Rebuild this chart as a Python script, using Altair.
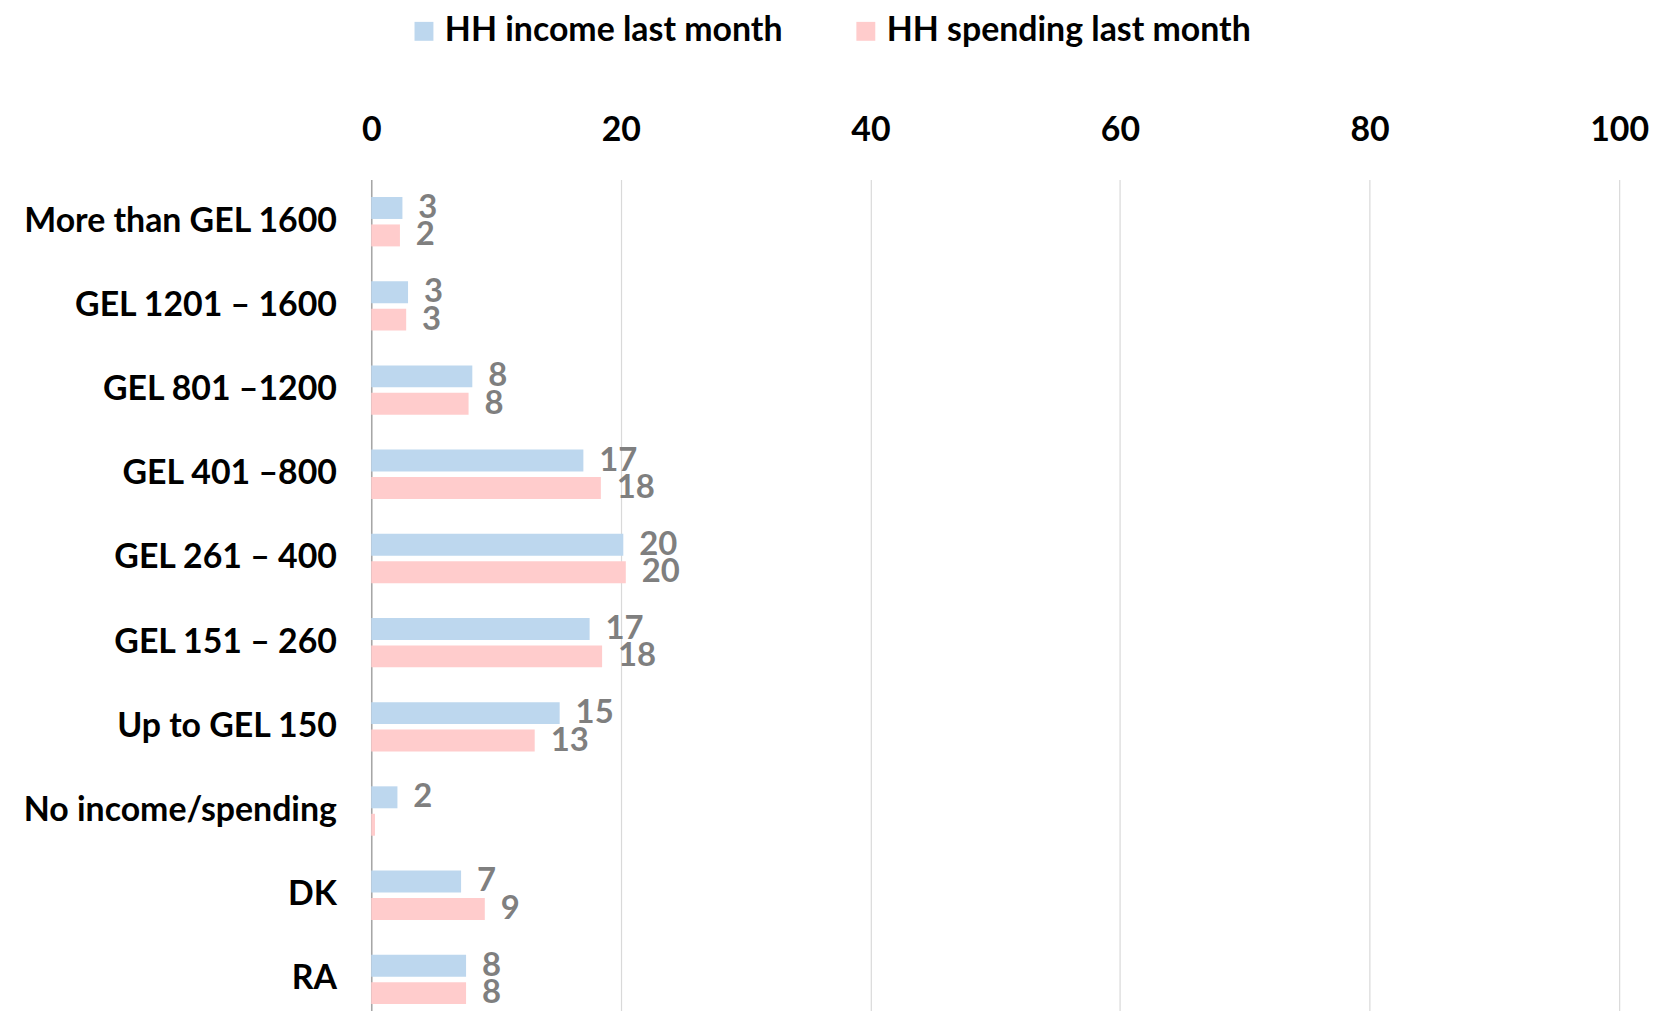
import altair as alt
import pandas as pd

categories = ["More than GEL 1600", "GEL 1201 – 1600", "GEL 801 –1200", "GEL 401 –800",
              "GEL 261 – 400", "GEL 151 – 260", "Up to GEL 150", "No income/spending", "DK", "RA"]
income = [2.5, 2.95, 8.1, 17.0, 20.2, 17.5, 15.1, 2.1, 7.2, 7.6]
spending = [2.3, 2.8, 7.8, 18.4, 20.4, 18.5, 13.1, 0.3, 9.1, 7.6]
income_labels = ["3", "3", "8", "17", "20", "17", "15", "2", "7", "8"]
spending_labels = ["2", "3", "8", "18", "20", "18", "13", "", "9", "8"]
series = ["HH income last month", "HH spending last month"]
colors = ["#BDD7EE", "#FFCCCC"]
ticks = [0, 20, 40, 60, 80, 100]

rows = []
for i, c in enumerate(categories):
    rows.append({"cat": c, "series": series[0], "value": income[i], "label": income_labels[i]})
    rows.append({"cat": c, "series": series[1], "value": spending[i], "label": spending_labels[i]})
df = pd.DataFrame(rows)

FONT = "Lato"

y_enc = alt.Y("cat:N", sort=categories, title=None,
              scale=alt.Scale(domain=categories, range=[2, 848], paddingInner=0, paddingOuter=0),
              axis=alt.Axis(labelFontSize=34, labelFont=FONT, labelFontWeight="bold", labelColor="#000000",
                            labelPadding=35, ticks=False, domain=True, domainColor="#A6A6A6",
                            domainWidth=1.5, labelLimit=0, grid=False))
x_enc = alt.X("value:Q", title=None,
              scale=alt.Scale(domain=[0, 100], nice=False),
              axis=alt.Axis(orient="top", values=ticks, domain=False, ticks=False, grid=True,
                            gridColor="#D9D9D9", gridWidth=1.2, labelFontSize=34, labelFont=FONT,
                            labelFontWeight="bold", labelColor="#000000", labelPadding=30,
                            labelFlush=False))
yoff = alt.YOffset("series:N", sort=series,
                   scale=alt.Scale(domain=series, paddingInner=0.2, paddingOuter=0.634))

bars = alt.Chart(df).mark_bar().encode(
    y=y_enc, x=x_enc, yOffset=yoff,
    color=alt.Color("series:N", sort=series,
                    scale=alt.Scale(domain=series, range=colors),
                    legend=alt.Legend(title=None, orient="none", legendX=36, legendY=-164,
                                      direction="horizontal", symbolType="square", symbolSize=361,
                                      symbolStrokeWidth=0, labelFontSize=34, labelFont=FONT,
                                      labelFontWeight="bold", labelColor="#000000",
                                      columnPadding=66, labelOffset=4, labelLimit=0)),
)

text = alt.Chart(df).mark_text(align="left", baseline="middle", dx=16, font=FONT,
                               fontWeight="bold", fontSize=33, color="#7F7F7F").encode(
    y=alt.Y("cat:N", sort=categories), x=alt.X("value:Q"), yOffset=yoff, text="label:N")

chart = alt.layer(bars, text).properties(
    width=1254, height=835,
    autosize=alt.AutoSizeParams(type="none"),
    padding={"left": 365, "top": 168, "right": 32, "bottom": 0},
).configure_view(stroke=None)

chart.save("out.html", embed_options={"renderer": "svg", "actions": False})
